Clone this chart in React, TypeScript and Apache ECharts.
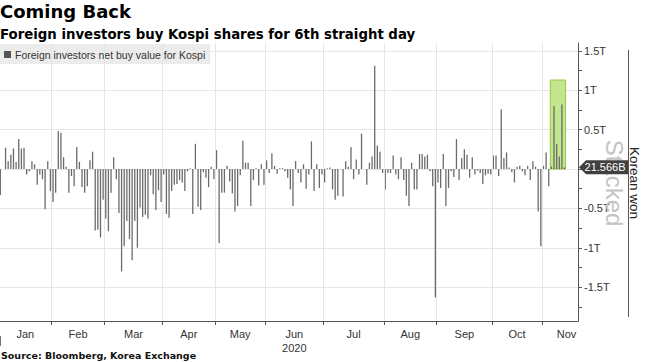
import React, { useEffect, useRef } from 'react';
import * as echarts from 'echarts';

// Net buy value of Kospi shares by foreign investors, trillion won, per trading day
const months = ['Jan', 'Feb', 'Mar', 'Apr', 'May', 'Jun', 'Jul', 'Aug', 'Sep', 'Oct', 'Nov'];
const jan = [-0.33, 0, 0.27, 0.1, 0.18, 0.26, 0.09, 0.38, 0.26, 0.27, -0.07, -0.03, 0.1, 0.06, -0.2, -0.07, -0.13, -0.51, 0.1, -0.28];
const feb = [-0.42, -0.3, 0.48, 0.46, 0.15, 0.03, -0.3, -0.09, -0.22, 0.28, 0.09, -0.23, -0.3, -0.22, 0.11, 0.22, -0.78, -0.77, -0.87, -0.39];
const mar = [-0.63, -0.79, -0.3, 0.15, -0.13, -0.56, -1.3, -0.98, -0.66, -0.89, -1.16, -0.66, -1.0, -0.49, -0.61, -0.58, -0.63, -0.08, -0.32, -0.52, -0.27, -0.42];
const apr = [-0.07, -0.57, -0.62, -0.28, -0.2, -0.19, -0.14, -0.17, -0.28, -0.03, 0.01, -0.57, 0.32, -0.48, -0.52, -0.04, -0.11, -0.23, 0.03, -0.13];
const may = [0.24, -0.94, -0.3, -0.3, 0.04, -0.16, -0.31, -0.54, -0.47, -0.08, 0.36, 0.08, 0.08, -0.47, -0.14, 0.01, -0.21, 0.06, -0.2];
const jun = [0.11, -0.05, 0.2, 0.04, -0.06, 0.01, 0.01, -0.03, -0.11, -0.26, -0.47, 0.1, -0.05, -0.17, 0.06, -0.25, -0.07, 0.35, -0.28, 0.06, -0.24, -0.07];
const jul = [-0.17, 0.01, 0.02, -0.26, -0.39, -0.34, 0, -0.35, 0.1, 0.03, 0.28, -0.13, 0.12, -0.07, 0.45, 0, -0.2, 0.08, 0.16, 1.31, 0.3, 0.22, -0.05];
const aug = [-0.26, -0.05, -0.05, 0.17, -0.07, -0.13, 0.15, -0.14, -0.34, -0.47, 0.08, -0.26, -0.26, 0.19, 0.19, 0.16, 0.18, -0.03, -0.22, -1.63];
const sep = [-0.17, -0.24, 0.19, -0.47, -0.24, -0.03, -0.1, 0.38, -0.14, 0.14, 0.25, 0.18, -0.11, 0.15, -0.07, -0.02, -0.05, -0.19, -0.08, -0.06, -0.07];
const oct = [0.17, 0.17, -0.09, 0.76, 0.14, 0.21, 0.02, -0.04, -0.17, 0.03, 0.04, -0.03, -0.08, 0.04, -0.14, 0.1, 0.03, -0.54, -0.98];
const nov = [0.04, 0.21, -0.22, 0.03, 0.8, 0.32, 0.16, 0.82, 0.021566];
const monthly = [jan, feb, mar, apr, may, jun, jul, aug, sep, oct, nov];

// the "0" label sits under the last-value tag, so only the others are shown
const yLabelValues = [-1.5, -1, -0.5, 0.5, 1, 1.5];
const yTickValues = [-1.75, -1.5, -1.25, -1, -0.75, -0.5, -0.25, 0, 0.25, 0.5, 0.75, 1, 1.25, 1.5];
const yMin = -1.93;
const yMax = 1.6;
const xMin = -0.11;
const xMax = 219.1;
const novLabelEnd = 224;
const streakDays = 6;
const streakTop = 1.13;
const lastValueLabel = '21.566B';
const seriesName = 'Foreign investors net buy value for Kospi';

export default function App() {
  const ref = useRef<HTMLDivElement>(null);
  useEffect(() => {
    document.body.style.margin = '0';
    const chart = echarts.init(ref.current!, null, { renderer: 'svg' });
    const values = monthly.flat();
    const barData = values.map((v, i) => [i, v]);
    const starts: number[] = [];
    let acc = 0;
    monthly.forEach((m) => { starts.push(acc); acc += m.length; });
    const boundaries = starts.slice(1).map((s) => s - 0.5);
    const edges = [-0.5, ...boundaries, novLabelEnd];
    const centers = months.map((_, i) => (edges[i] + edges[i + 1]) / 2);
    const n = values.length;
    const gridColor = '#e6e6e6';
    const axisFont = 'Liberation Sans, Arial, sans-serif';

    chart.setOption({
      animation: false,
      title: {
        text: 'Coming Back',
        subtext: 'Foreign investors buy Kospi shares for 6th straight day',
        left: 0,
        top: 0,
        padding: [2, 0, 0, 0],
        itemGap: 8,
        textStyle: { fontFamily: 'DejaVu Sans', fontWeight: 'bold', fontSize: 18, color: '#000' },
        subtextStyle: { fontFamily: 'DejaVu Sans', fontWeight: 'bold', fontSize: 13.3, color: '#000' },
      },
      legend: {
        left: 0,
        top: 44,
        backgroundColor: '#ececec',
        padding: [5, 5, 4, 4],
        itemWidth: 7,
        itemHeight: 7,
        icon: 'rect',
        selectedMode: false,
        textStyle: { fontFamily: axisFont, fontSize: 10.5, color: '#333', padding: [0, 0, 0, -1] },
        data: [{ name: seriesName, itemStyle: { color: '#555' } }],
      },
      grid: { left: 0, right: 67, top: 43, bottom: 41, containLabel: false },
      xAxis: {
        type: 'value',
        min: xMin,
        max: xMax,
        splitLine: { show: false },
        axisLine: { show: true, onZero: false, lineStyle: { color: '#555', width: 1 } },
        axisTick: { show: true, customValues: boundaries, length: 4, lineStyle: { color: '#555' } },
        axisLabel: {
          customValues: centers,
          margin: 6,
          fontFamily: axisFont,
          fontSize: 11,
          color: '#333',
          lineHeight: 14,
          formatter: (val: number) => {
            const i = centers.findIndex((c) => Math.abs(c - val) < 0.01);
            const name = months[i] ?? '';
            return name === 'Jun' ? 'Jun\n2020' : name;
          },
        },
      },
      yAxis: [
        {
          type: 'value',
          position: 'right',
          min: yMin,
          max: yMax,
          splitLine: { show: false },
          axisLine: { show: true, onZero: false, lineStyle: { color: '#555', width: 1 } },
          axisTick: { show: true, customValues: yTickValues, length: 4, lineStyle: { color: '#555' } },
          axisLabel: {
            customValues: yLabelValues,
            margin: 6,
            fontFamily: axisFont,
            fontSize: 11,
            color: '#333',
            formatter: (v: number) => (v === 0 ? '0' : `${v}T`),
          },
        },
        {
          type: 'value',
          position: 'left',
          min: yMin,
          max: yMax,
          splitNumber: 7,
          axisLine: { show: false, onZero: false },
          axisTick: { show: false },
          axisLabel: { show: false },
          splitLine: { show: true, showMinLine: false, showMaxLine: false, lineStyle: { color: gridColor, width: 1 } },
        },
      ],
      series: [
        {
          type: 'line',
          z: 1,
          data: [[0, 0]],
          symbol: 'none',
          lineStyle: { opacity: 0 },
          silent: true,
          markLine: {
            silent: true,
            symbol: ['none', 'none'],
            label: { show: false },
            lineStyle: { color: gridColor, type: 'solid', width: 1 },
            data: boundaries.map((b) => ({ xAxis: b })),
          },
          markArea: {
            silent: true,
            itemStyle: { color: '#c3e58d', borderColor: '#93c83e', borderWidth: 1 },
            data: [[
              { xAxis: n - streakDays - 0.4, yAxis: 0 },
              { xAxis: n - 1 + 0.4, yAxis: streakTop },
            ]],
          },
        },
        {
          name: seriesName,
          type: 'bar',
          z: 3,
          data: barData,
          barWidth: 1.3,
          itemStyle: { color: '#6b6b6b' },
        },
      ],
    });

    const yLast = chart.convertToPixel({ yAxisIndex: 0 }, values[n - 1]) as number;
    const axisX = 578;
    chart.setOption({
      graphic: [
        {
          type: 'text',
          x: 614,
          y: 183,
          rotation: -Math.PI / 2,
          z: 1,
          style: { text: 'Stacked', font: '24px Liberation Sans', fill: '#c4c4c4', align: 'center', verticalAlign: 'middle' },
        },
        {
          type: 'polygon',
          z: 5,
          shape: { points: [[axisX + 1, yLast], [axisX + 8, yLast - 7], [628, yLast - 7], [628, yLast + 7], [axisX + 8, yLast + 7]] },
          style: { fill: '#404040' },
        },
        {
          type: 'text',
          z: 6,
          x: 605,
          y: yLast,
          style: { text: lastValueLabel, font: '11px Liberation Sans', fill: '#fff', align: 'center', verticalAlign: 'middle' },
        },
        {
          type: 'line',
          shape: { x1: 628.5, y1: 50, x2: 628.5, y2: 317 },
          style: { stroke: '#555', lineWidth: 1 },
        },
        {
          type: 'line',
          shape: { x1: 0.5, y1: 336, x2: 0.5, y2: 346 },
          style: { stroke: '#777', lineWidth: 1 },
        },
        {
          type: 'text',
          x: 634,
          y: 183,
          rotation: -Math.PI / 2,
          style: { text: 'Korean won', font: '13.5px Liberation Sans', fill: '#222', align: 'center', verticalAlign: 'middle' },
        },
        {
          type: 'text',
          x: 1,
          y: 355,
          style: { text: 'Source: Bloomberg, Korea Exchange', font: 'bold 9.5px DejaVu Sans', fill: '#111', verticalAlign: 'middle' },
        },
      ],
    });

    return () => chart.dispose();
  }, []);
  return <div ref={ref} style={{ width: 645, height: 362 }} />;
}
